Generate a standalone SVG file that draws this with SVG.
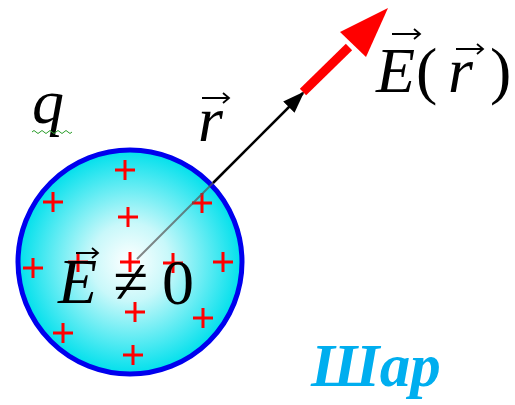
<svg xmlns="http://www.w3.org/2000/svg" width="515" height="405" viewBox="0 0 515 405">
<defs>
<radialGradient id="g" cx="0.5" cy="0.5" r="0.5">
<stop offset="0" stop-color="#ffffff"/>
<stop offset="0.35" stop-color="#c8f8fa"/>
<stop offset="1" stop-color="#00e0ec"/>
</radialGradient>
<marker id="ah" markerWidth="22" markerHeight="16" refX="20" refY="8" orient="auto" markerUnits="userSpaceOnUse" viewBox="0 0 22 16">
<path d="M0,0 L22,8 L0,16 z" fill="#000"/>
</marker>
<path id="plus" d="M-10,0 H10 M0,-10 V10" stroke="#ff0000" stroke-width="3" fill="none"/>
</defs>
<style>
.m{font-family:"Liberation Serif",serif;font-style:italic;fill:#000;font-size:64px}
.n{font-family:"Liberation Serif",serif;fill:#000;font-size:64px}
.v{stroke:#000;stroke-width:1.8;fill:none}
</style>
<g id="sphere">
<circle cx="130" cy="262" r="112" fill="url(#g)" stroke="#0000ee" stroke-width="5"/>
<g id="charges">
<use href="#plus" x="125" y="170"/>
<use href="#plus" x="53" y="202"/>
<use href="#plus" x="128" y="217"/>
<use href="#plus" x="202" y="203"/>
<use href="#plus" x="33" y="268"/>
<use href="#plus" x="78" y="262"/>
<use href="#plus" x="130" y="262"/>
<use href="#plus" x="173" y="263"/>
<use href="#plus" x="223" y="262"/>
<use href="#plus" x="135" y="312"/>
<use href="#plus" x="203" y="318"/>
<use href="#plus" x="63" y="333"/>
<use href="#plus" x="133" y="355"/>
</g>
</g>
<g id="connectors">
<line x1="137" y1="259" x2="213" y2="183" stroke="#555" stroke-width="2" opacity="0.7"/>
<line x1="213" y1="183" x2="303" y2="93" stroke="#000" stroke-width="2.5" marker-end="url(#ah)"/>
<path d="M303,92 L349,47" stroke="#ff0000" stroke-width="9" fill="none"/>
<path d="M388,8 L366,57 L340,32 z" fill="#ff0000"/>
</g>
<g id="labels">
<text class="m" x="32" y="123">q</text>
<path d="M32,132 q2,-3 4,0 t4,0 t4,0 t4,0 t4,0 t4,0 t4,0 t4,0 t4,0 t4,0" stroke="#2a9d2a" stroke-width="1" fill="none"/>
<text class="m" x="198" y="141">r</text>
<path class="v" d="M202,98 H229 M223,93 L229,98 L223,103"/>
<text class="m" x="58" y="303">E</text>
<path class="v" d="M76,253 H98 M92,248 L98,253 L92,258"/>
<text class="n" x="113" y="303">≠</text>
<text class="n" x="162" y="304">0</text>
<text class="m" x="376" y="92">E</text>
<path class="v" d="M392,34 H420 M414,29 L420,34 L414,39"/>
<text class="n" x="416" y="92">(</text>
<text class="m" x="448" y="92">r</text>
<path class="v" d="M456,49 H483 M477,44 L483,49 L477,54"/>
<text class="n" x="490" y="92">)</text>
<text x="311" y="386" font-family="Liberation Serif,serif" font-weight="bold" font-style="italic" font-size="61" fill="#00aeef">Шар</text>
</g>
</svg>
